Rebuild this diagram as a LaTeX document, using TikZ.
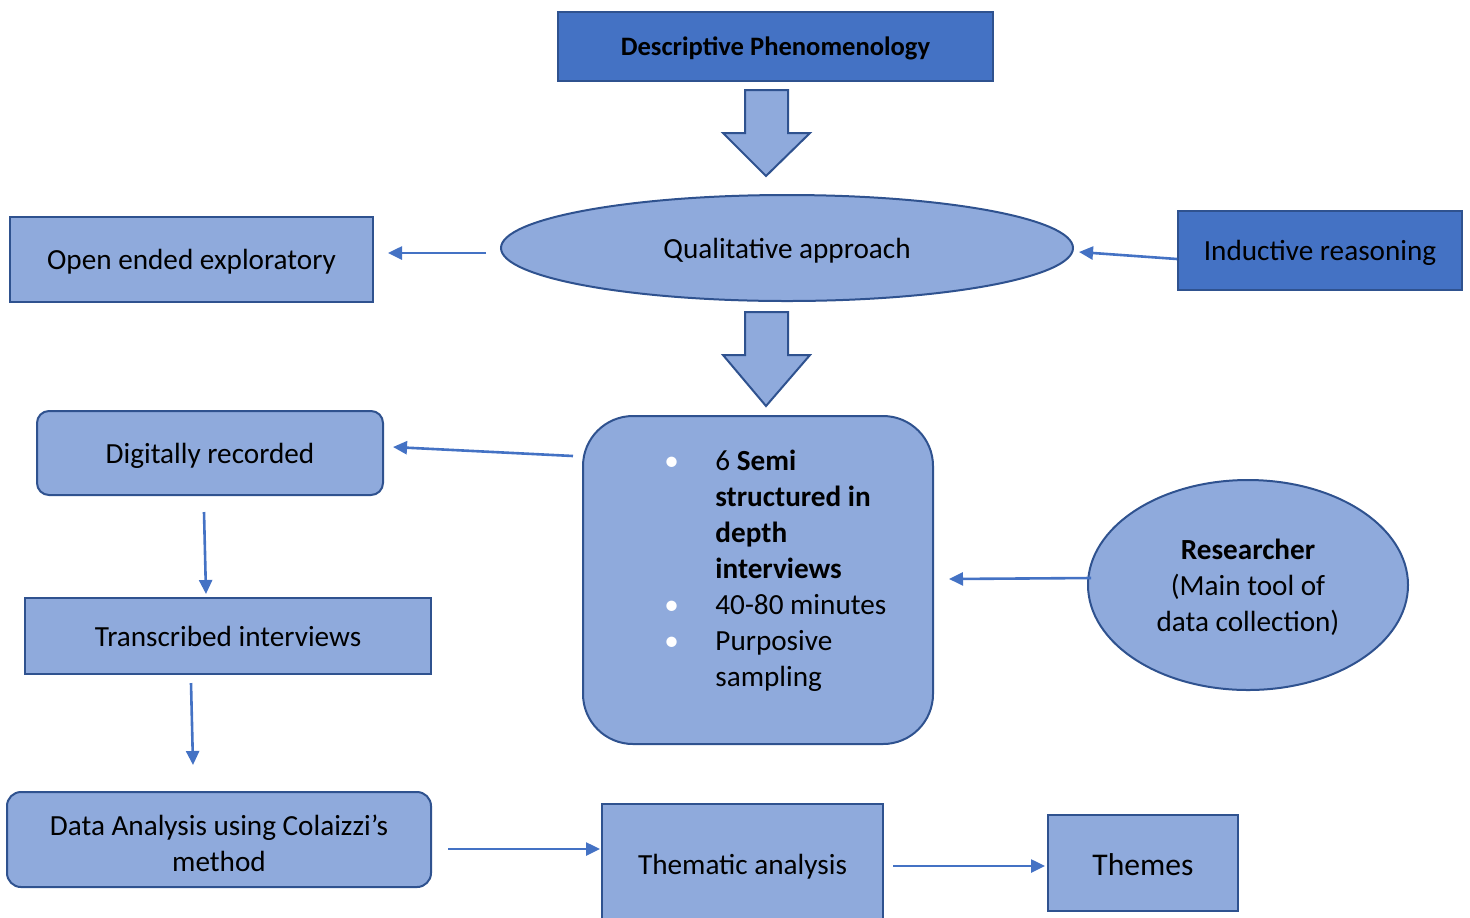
\documentclass[tikz,border=0pt]{standalone}
\usepackage{fontspec}
\setmainfont{Carlito}
\usetikzlibrary{shapes.geometric,arrows.meta,calc}
\definecolor{dkblue}{HTML}{4472C4}
\definecolor{ltblue}{HTML}{8FAADC}
\definecolor{bord}{HTML}{2F528F}
\newcommand\lowerby[2]{\raisebox{0pt}[\dimexpr\height+#1\relax][\depth]{#2}}
\begin{document}
\begin{tikzpicture}[x=0.5pt,y=-0.5pt,
  base/.style={draw=bord,line width=1pt,inner sep=0pt,align=center,text depth=0pt,
    font=\fontsize{14.6}{18}\selectfont,text=black},
  darkbox/.style={base,fill=dkblue},
  lightbox/.style={base,fill=ltblue},
  oval/.style={base,fill=ltblue,ellipse},
  conn/.style={draw=dkblue,line width=1.3pt,-{Triangle[length=7pt,width=6.5pt]}},
  blockarrow/.style={fill=ltblue,draw=bord,line width=1pt,line join=miter}]
\useasboundingbox (0,0) rectangle (1470,917);
% nodes
\node[darkbox,minimum width=217.5pt,minimum height=34.5pt,font=\fontsize{13.3}{16}\selectfont\bfseries] (dp) at (775.5,46.5) {Descriptive Phenomenology};
\node[oval,minimum width=286pt,minimum height=53pt] (q) at (787,248) {Qualitative approach};
\node[lightbox,minimum width=181.5pt,minimum height=42.5pt] (open) at (191.5,259.5) {Open ended exploratory};
\node[darkbox,minimum width=142pt,minimum height=39.5pt] (ind) at (1320,250.5) {Inductive reasoning};
\node[lightbox,rounded corners=25pt,minimum width=175pt,minimum height=164pt] (sem) at (758,580) {};
\node[anchor=north west,inner sep=0pt,font=\fontsize{14.6}{18}\selectfont] (semtext) at (667,445) {%
  \begin{tabular}{@{}p{24pt}@{}l@{}}
  \hspace{-1.5pt}\textcolor{white}{\textbullet} & 6 \textbf{Semi}\\
  & \textbf{structured in}\\
  & \textbf{depth}\\
  & \textbf{interviews}\\
  \hspace{-1.5pt}\textcolor{white}{\textbullet} & 40-80 minutes\\
  \hspace{-1.5pt}\textcolor{white}{\textbullet} & Purposive\\
  & sampling
  \end{tabular}};
\node[lightbox,rounded corners=6pt,minimum width=173pt,minimum height=42pt] (dig) at (210,453) {Digitally recorded};
\node[lightbox,minimum width=203pt,minimum height=38pt] (trans) at (228,636) {Transcribed interviews};
\node[lightbox,rounded corners=7pt,minimum width=212pt,minimum height=47.5pt,text depth={}] (data) at (219,839.5) {\lowerby{7pt}{\begin{tabular}{@{}c@{}}Data Analysis using Colaizzi’s\\method\end{tabular}}};
\node[lightbox,minimum width=140.5pt,minimum height=63pt,text depth={}] (them) at (742.5,867) {Thematic analysis};
\node[lightbox,minimum width=95pt,minimum height=48pt,font=\fontsize{15.8}{19}\selectfont] (themes) at (1143,863) {\lowerby{1.5pt}{Themes}};
\node[oval,minimum width=160pt,minimum height=105pt,text depth={}] (res) at (1248,585) {\lowerby{3.5pt}{\begin{tabular}{@{}c@{}}\textbf{Researcher}\\(Main tool of\\data collection)\end{tabular}}};
% block arrows
\draw[blockarrow] (745,90) -- (788,90) -- (788,133) -- (810,133) -- (766,176) -- (723,133) -- (745,133) -- cycle;
\draw[blockarrow] (745,312) -- (788,312) -- (788,355) -- (810,355) -- (766,406) -- (723,355) -- (745,355) -- cycle;
% connectors
\draw[conn] ($(q.west)+(-14,5)$) -- ($(open.east)+(14,-6.5)$);
\draw[conn] ($(ind.west)+(0,8.5)$) -- ($(q.east)+(5,4)$);
\draw[conn] ($(sem.west)+(-9,-124)$) -- ($(dig.east)+(9,-6)$);
\draw[conn] ($(dig.south)+(-6,16)$) -- ($(trans.north)+(-22,-3)$);
\draw[conn] ($(trans.south)+(-37,8)$) -- ($(data.north)+(-26,-26)$);
\draw[conn] ($(data.east)+(16,9.5)$) -- ($(them.west)+(-1,-18)$);
\draw[conn] ($(them.east)+(9,-1)$) -- ($(themes.west)+(-2,3)$);
\draw[conn] ($(res.west)+(4,-7)$) -- ($(sem.east)+(15,-1)$);
\end{tikzpicture}
\end{document}
